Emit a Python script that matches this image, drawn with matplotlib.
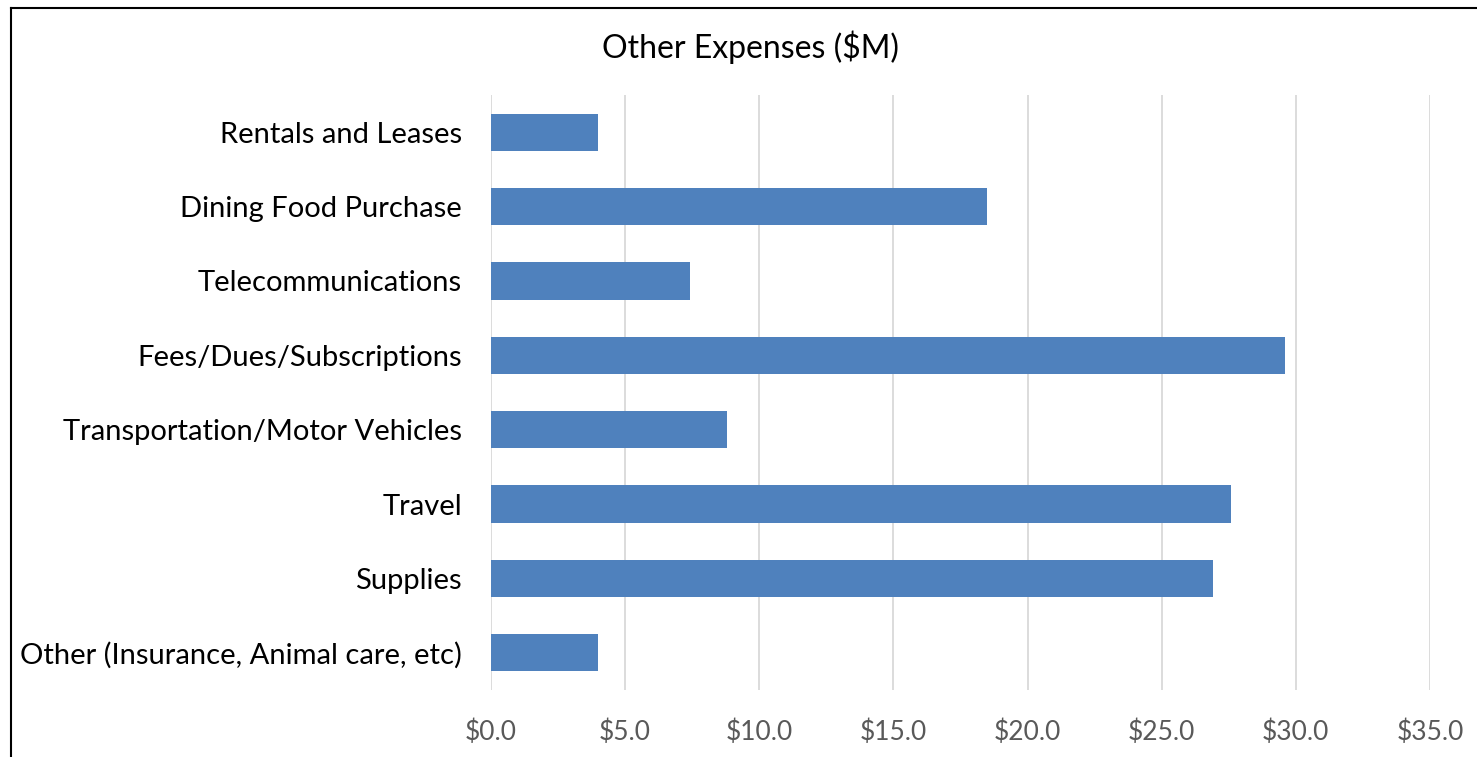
import matplotlib
matplotlib.use("Agg")
import matplotlib.pyplot as plt
from matplotlib.lines import Line2D

categories = ["Other (Insurance, Animal care, etc)", "Supplies", "Travel",
              "Transportation/Motor Vehicles", "Fees/Dues/Subscriptions",
              "Telecommunications", "Dining Food Purchase", "Rentals and Leases"]
values = [4.0, 26.9, 27.6, 8.8, 29.6, 7.4, 18.5, 4.0]
xticks = [0, 5, 10, 15, 20, 25, 30, 35]
xtick_labels = ["$0.0", "$5.0", "$10.0", "$15.0", "$20.0", "$25.0", "$30.0", "$35.0"]

plt.rcParams['font.family'] = ['Lato', 'DejaVu Sans']

W, H = 1477, 757
fig = plt.figure(figsize=(W / 100, H / 100), dpi=100)
ax = fig.add_axes([491 / W, 1 - 690 / H, (1430 - 491) / W, (690 - 95) / H])

ypos = list(range(len(categories)))
ax.barh(ypos, values, height=0.5, color="#4F81BD", zorder=3)
ax.set_xlim(0, 35)
ax.set_ylim(-0.5, len(categories) - 0.5)
ax.set_xticks(xticks)
ax.set_xticklabels(xtick_labels, fontsize=19, color="#595959")
ax.set_yticks(ypos)
ax.set_yticklabels(categories, fontsize=21, color="black")
ax.tick_params(axis='both', length=0)
ax.tick_params(axis='x', pad=21)
ax.tick_params(axis='y', pad=21)
ax.grid(axis='x', color="#D9D9D9", linewidth=1.3, zorder=0)
for s in ax.spines.values():
    s.set_visible(False)

fig.text(750 / W, 1 - 47 / H, "Other Expenses ($M)", ha='center', va='center',
         fontsize=23, color="black")

# outer frame (top and left edges visible)
fig.add_artist(Line2D([11 / W, 11 / W], [0, 1 - 8 / H], color="black", linewidth=1.5,
                      transform=fig.transFigure))
fig.add_artist(Line2D([11 / W, 1], [1 - 8 / H, 1 - 8 / H], color="black", linewidth=1.5,
                      transform=fig.transFigure))

fig.savefig("out.png", dpi=100)
